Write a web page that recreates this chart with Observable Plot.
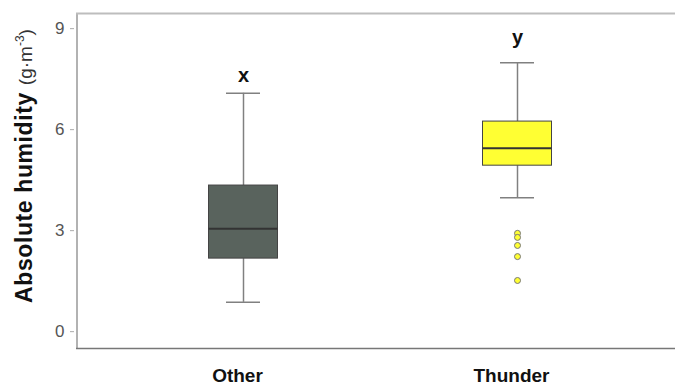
<!DOCTYPE html>
<html>
<head>
<meta charset="utf-8">
<script src="https://cdn.jsdelivr.net/npm/d3@7"></script>
<script src="https://cdn.jsdelivr.net/npm/@observablehq/plot@0.6"></script>
<style>
  html, body { margin: 0; padding: 0; background: #fff; overflow: hidden; }
  #chart svg { display: block; font-family: "Liberation Sans", Arial, sans-serif; }
</style>
</head>
<body>
<div id="chart"></div>
<script>
const groups = ["Other", "Thunder"];
const whiskerLow = [0.87, 3.98];
const q1 = [2.17, 4.93];
const median = [3.06, 5.45];
const q3 = [4.34, 6.24];
const whiskerHigh = [7.08, 7.99];
const fills = ["#59635d", "#ffff33"];
const outlierGroup = ["Thunder", "Thunder", "Thunder", "Thunder", "Thunder"];
const outlierValues = [2.92, 2.80, 2.56, 2.23, 1.52];
const letters = ["x", "y"];
const letterValues = [7.61, 8.74];
const yTicks = [0, 3, 6, 9];

const boxes = groups.map((g, i) => ({
  group: g, lo: whiskerLow[i], q1: q1[i], med: median[i], q3: q3[i], hi: whiskerHigh[i], fill: fills[i],
  letter: letters[i], ly: letterValues[i]
}));
const outliers = outlierGroup.map((g, i) => ({group: g, value: outlierValues[i]}));

const yDomain = [-0.5, 9.45];

const plot = Plot.plot({
  width: 675,
  height: 385,
  marginLeft: 76,
  marginRight: 0,
  marginTop: 13,
  marginBottom: 37,
  style: {fontFamily: "Liberation Sans, Arial, sans-serif", background: "#fff"},
  x: {domain: groups, range: [106, 654], padding: 0, axis: null},
  y: {domain: yDomain, axis: null},
  marks: [
    // frame lines: left, top, bottom (no right side)
    Plot.ruleX([groups[0]], {x: d => d, y1: yDomain[0], y2: yDomain[1], dx: -166.5, stroke: "#999", strokeWidth: 1.5}),
    Plot.ruleY([yDomain[1]], {stroke: "#bdbdbd", strokeWidth: 2}),
    Plot.ruleY([yDomain[0]], {stroke: "#777", strokeWidth: 1.5}),
    Plot.axisY({ticks: yTicks, tickSize: 4, tickPadding: 6, dx: -2, fontSize: 17, fill: "#555", stroke: "#aaa", label: null}),
    Plot.axisX({tickSize: 0, tickPadding: 20, dx: -6, fontSize: 19, fontWeight: "bold", fill: "#111", label: null}),
    // whiskers
    Plot.ruleX(boxes, {x: "group", y1: "lo", y2: "q1", stroke: "#808080", strokeWidth: 1.5}),
    Plot.ruleX(boxes, {x: "group", y1: "q3", y2: "hi", stroke: "#808080", strokeWidth: 1.5}),
    Plot.tickY(boxes, {x: "group", y: "lo", stroke: "#808080", strokeWidth: 1.5, insetLeft: 120, insetRight: 120}),
    Plot.tickY(boxes, {x: "group", y: "hi", stroke: "#808080", strokeWidth: 1.5, insetLeft: 120, insetRight: 120}),
    // boxes
    Plot.barY(boxes, {x: "group", y1: "q1", y2: "q3", fill: "fill", stroke: "#444", strokeWidth: 1, insetLeft: 102.5, insetRight: 102.5}),
    Plot.tickY(boxes, {x: "group", y: "med", stroke: "#333", strokeWidth: 2, insetLeft: 102.5, insetRight: 102.5}),
    // outliers
    Plot.dot(outliers, {x: "group", y: "value", r: 3, fill: "#ffff33", stroke: "#777", strokeWidth: 1}),
    // letters
    Plot.text(boxes, {x: "group", y: "ly", text: "letter", fontSize: 20, fontWeight: "bold", fill: "#111"})
  ]
});

const svg = d3.select(plot);
const t = svg.append("text")
  .attr("transform", "translate(32,166) rotate(-90)")
  .attr("text-anchor", "middle")
  .attr("font-size", 23);
t.append("tspan").attr("font-weight", "bold").attr("fill", "#111").attr("letter-spacing", 0.6).text("Absolute humidity ");
t.append("tspan").attr("fill", "#333").attr("font-size", 19).text("(g·m");
t.append("tspan").attr("fill", "#333").attr("font-size", 12).attr("dy", -8).text("-3");
t.append("tspan").attr("fill", "#333").attr("font-size", 19).attr("dy", 8).text(")");

document.getElementById("chart").appendChild(plot);
</script>
</body>
</html>
